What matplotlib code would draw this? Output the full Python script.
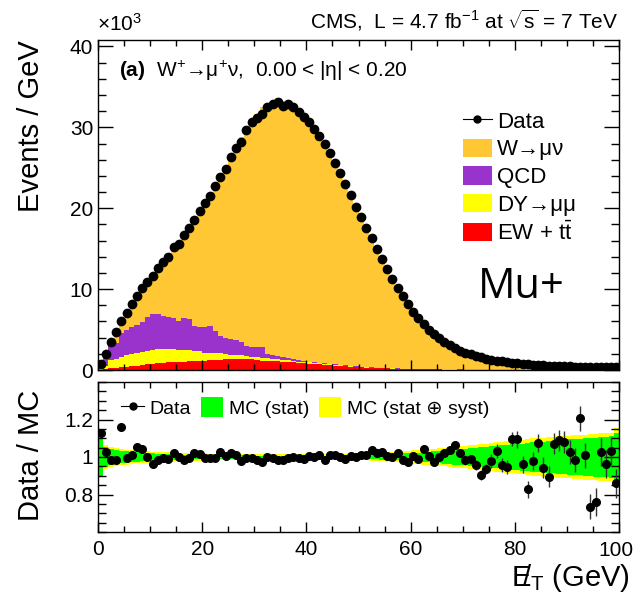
import numpy as np
import matplotlib
matplotlib.use('Agg')
import matplotlib.pyplot as plt
from matplotlib.lines import Line2D
from matplotlib.patches import Patch
from matplotlib.ticker import MultipleLocator

plt.rcParams['font.family'] = ['Liberation Sans', 'DejaVu Sans']
plt.rcParams['mathtext.fontset'] = 'custom'
plt.rcParams['mathtext.rm'] = 'Liberation Sans'
plt.rcParams['mathtext.it'] = 'Liberation Sans:italic'
plt.rcParams['mathtext.bf'] = 'Liberation Sans:bold'
plt.rcParams['mathtext.default'] = 'regular'

# 1 GeV bins from 0 to 100, values in units of 10^3 events / GeV
edges = np.arange(0, 101)
centers = edges[:-1] + 0.5

data_k = [
    0.7, 2.0, 3.5, 4.7, 6.0, 7.0, 8.2, 9.2, 10.1, 10.9,
    11.6, 12.6, 13.3, 14.0, 15.2, 15.6, 16.7, 17.5, 18.6, 19.6,
    20.6, 21.5, 22.7, 23.9, 24.9, 26.3, 27.4, 28.2, 29.7, 30.6,
    31.1, 31.7, 32.5, 32.9, 33.1, 32.6, 32.9, 32.5, 31.9, 31.3,
    30.6, 29.8, 28.9, 27.9, 26.8, 25.6, 24.3, 23.0, 21.6, 20.2,
    18.9, 17.6, 16.3, 15.0, 13.7, 12.5, 11.3, 10.2, 9.1, 8.1,
    7.2, 6.4, 5.7, 5.0, 4.4, 3.9, 3.45, 3.05, 2.7, 2.4,
    2.15, 1.93, 1.73, 1.56, 1.41, 1.28, 1.16, 1.06, 0.97, 0.89,
    0.82, 0.76, 0.71, 0.66, 0.62, 0.58, 0.55, 0.52, 0.49, 0.46,
    0.44, 0.42, 0.40, 0.38, 0.36, 0.35, 0.34, 0.33, 0.32, 0.31]

w_munu = [
    0.17, 0.5, 0.5, 1.1, 0.9, 2.05, 2.82, 3.15, 3.78, 4.42,
    5.15, 5.9, 6.69, 7.64, 8.5, 9.53, 10.57, 11.29, 12.76, 13.97,
    15.45, 16.25, 18.06, 19.12, 20.78, 21.98, 23.43, 25.28, 26.91, 27.92,
    28.71, 29.61, 30.5, 31.23, 31.94, 31.53, 31.68, 31.14, 30.92, 30.58,
    29.4, 28.88, 27.71, 27.52, 25.77, 24.66, 23.73, 22.72, 20.94, 19.8,
    18.32, 17.02, 15.4, 14.36, 13.07, 12.2, 11.11, 9.8, 9.08, 8.15,
    7.02, 6.33, 5.36, 4.87, 4.41, 3.8, 3.28, 2.86, 2.46, 2.28,
    2.12, 1.89, 1.75, 1.67, 1.46, 1.26, 1.07, 1.06, 0.98, 0.77,
    0.71, 0.75, 0.82, 0.63, 0.54, 0.58, 0.57, 0.45, 0.41, 0.39,
    0.4, 0.4, 0.3, 0.35, 0.46, 0.43, 0.3, 0.31, 0.28, 0.33]

qcd = [
    0.3, 0.9, 2.0, 2.0, 3.0, 3.2, 3.3, 3.5, 3.7, 4.2,
    4.45, 4.35, 4.1, 3.9, 3.85, 3.6, 3.9, 3.85, 3.0, 3.0,
    3.15, 3.3, 2.7, 2.15, 2.05, 1.9, 1.85, 1.7, 1.3, 1.25,
    1.3, 1.4, 0.55, 0.5, 0.4, 0.35, 0.25, 0.15, 0.15, 0.1,
    0.1, 0.1, 0.08, 0.07, 0.06, 0.05, 0.04, 0.04, 0.03, 0.03,
    0.02, 0.02, 0.02, 0.02, 0.02, 0.02, 0.02, 0.02, 0.02, 0.02,
    0.015, 0.015, 0.015, 0.015, 0.015, 0.015, 0.015, 0.015, 0.015, 0.015,
    0.01, 0.01, 0.01, 0.01, 0.01, 0.01, 0.01, 0.01, 0.01, 0.01,
    0.01, 0.01, 0.01, 0.01, 0.01, 0.01, 0.01, 0.01, 0.01, 0.01,
    0.01, 0.01, 0.01, 0.01, 0.01, 0.01, 0.01, 0.01, 0.01, 0.01]

dy_mumu = [
    0.1, 0.4, 0.95, 1.1, 1.25, 1.4, 1.55, 1.6, 1.6, 1.6,
    1.65, 1.7, 1.7, 1.65, 1.55, 1.5, 1.45, 1.35, 1.3, 1.2,
    1.0, 0.9, 0.9, 0.8, 0.65, 0.6, 0.55, 0.5, 0.35, 0.35,
    0.4, 0.35, 0.35, 0.3, 0.2, 0.2, 0.2, 0.2, 0.15, 0.15,
    0.15, 0.13, 0.12, 0.11, 0.1, 0.09, 0.08, 0.07, 0.06, 0.05,
    0.05, 0.04, 0.04, 0.035, 0.03, 0.03, 0.025, 0.025, 0.02, 0.02,
    0.015, 0.015, 0.015, 0.015, 0.015, 0.015, 0.015, 0.015, 0.015, 0.015,
    0.01, 0.01, 0.01, 0.01, 0.01, 0.01, 0.01, 0.01, 0.01, 0.01,
    0.01, 0.01, 0.01, 0.01, 0.01, 0.01, 0.01, 0.01, 0.01, 0.01,
    0.005, 0.005, 0.005, 0.005, 0.005, 0.005, 0.005, 0.005, 0.005, 0.005]

ew_ttbar = [
    0.05, 0.15, 0.25, 0.3, 0.35, 0.4, 0.45, 0.5, 0.6, 0.7,
    0.8, 0.85, 0.9, 0.95, 1.0, 1.0, 1.05, 1.1, 1.1, 1.1,
    1.15, 1.2, 1.2, 1.25, 1.3, 1.3, 1.3, 1.3, 1.35, 1.3,
    1.2, 1.15, 1.1, 1.1, 1.1, 1.05, 1.0, 0.95, 0.9, 0.85,
    0.8, 0.75, 0.7, 0.65, 0.6, 0.55, 0.5, 0.45, 0.4, 0.36,
    0.32, 0.29, 0.26, 0.23, 0.21, 0.19, 0.17, 0.15, 0.13, 0.12,
    0.11, 0.1, 0.09, 0.08, 0.07, 0.065, 0.06, 0.055, 0.05, 0.045,
    0.04, 0.04, 0.035, 0.035, 0.03, 0.03, 0.03, 0.025, 0.025, 0.025,
    0.02, 0.02, 0.02, 0.02, 0.02, 0.02, 0.02, 0.02, 0.02, 0.02,
    0.015, 0.015, 0.015, 0.015, 0.015, 0.015, 0.015, 0.015, 0.015, 0.015]

ratio = [
    1.126, 1.028, 0.984, 0.984, 1.158, 0.993, 1.01, 1.052, 1.043, 0.998,
    0.963, 0.984, 0.993, 0.99, 1.02, 0.998, 0.984, 0.995, 1.024, 1.017,
    0.993, 0.993, 0.993, 1.025, 1.005, 1.02, 1.01, 0.98, 0.993, 0.993,
    0.984, 0.975, 1.0, 0.993, 0.984, 0.984, 0.993, 1.002, 0.993, 0.988,
    1.005, 0.998, 1.01, 0.984, 1.01, 1.01, 0.998, 0.988, 1.008, 0.998,
    1.01, 1.013, 1.037, 1.024, 1.028, 1.005, 0.998, 1.02, 0.984, 0.975,
    1.005, 0.991, 1.041, 1.005, 0.975, 1.002, 1.024, 1.037, 1.064, 1.02,
    0.984, 0.988, 0.957, 0.904, 0.936, 0.979, 1.032, 0.957, 0.948, 1.094,
    1.094, 0.962, 0.828, 0.979, 1.074, 0.943, 0.895, 1.07, 1.09, 1.081,
    1.028, 0.984, 1.206, 1.01, 0.735, 0.762, 1.028, 0.962, 1.032, 0.86]

ratio_err = [
    0.01, 0.006, 0.005, 0.004, 0.004, 0.004, 0.003, 0.003, 0.003, 0.003,
    0.003, 0.003, 0.003, 0.003, 0.003, 0.003, 0.003, 0.003, 0.003, 0.003,
    0.003, 0.003, 0.003, 0.003, 0.003, 0.003, 0.003, 0.003, 0.003, 0.003,
    0.003, 0.003, 0.003, 0.003, 0.003, 0.003, 0.003, 0.003, 0.003, 0.003,
    0.003, 0.003, 0.003, 0.003, 0.003, 0.003, 0.003, 0.003, 0.003, 0.003,
    0.004, 0.004, 0.004, 0.005, 0.005, 0.005, 0.006, 0.006, 0.007, 0.007,
    0.012, 0.012, 0.013, 0.013, 0.014, 0.018, 0.018, 0.019, 0.019, 0.02,
    0.025, 0.025, 0.026, 0.026, 0.027, 0.035, 0.035, 0.036, 0.036, 0.037,
    0.045, 0.045, 0.046, 0.046, 0.047, 0.055, 0.055, 0.056, 0.056, 0.057,
    0.065, 0.065, 0.066, 0.066, 0.067, 0.075, 0.075, 0.076, 0.076, 0.077]

mc_stat = [
    0.1, 0.055, 0.045, 0.038, 0.033, 0.03, 0.027, 0.025, 0.023, 0.021,
    0.019, 0.018, 0.017, 0.016, 0.015, 0.014, 0.013, 0.013, 0.012, 0.012,
    0.011, 0.011, 0.01, 0.01, 0.01, 0.01, 0.009, 0.009, 0.009, 0.009,
    0.008, 0.008, 0.008, 0.008, 0.008, 0.008, 0.008, 0.008, 0.008, 0.008,
    0.008, 0.008, 0.008, 0.008, 0.008, 0.008, 0.009, 0.009, 0.009, 0.009,
    0.01, 0.011, 0.012, 0.013, 0.014, 0.015, 0.017, 0.018, 0.02, 0.021,
    0.022, 0.024, 0.026, 0.028, 0.03, 0.032, 0.035, 0.037, 0.04, 0.042,
    0.045, 0.048, 0.05, 0.053, 0.055, 0.058, 0.06, 0.063, 0.065, 0.068,
    0.07, 0.072, 0.075, 0.078, 0.08, 0.082, 0.085, 0.087, 0.09, 0.092,
    0.094, 0.096, 0.098, 0.1, 0.102, 0.104, 0.106, 0.108, 0.11, 0.13]

mc_total = [
    0.105, 0.065, 0.055, 0.048, 0.043, 0.04, 0.037, 0.034, 0.032, 0.03,
    0.028, 0.027, 0.026, 0.025, 0.024, 0.023, 0.022, 0.021, 0.02, 0.02,
    0.019, 0.018, 0.018, 0.017, 0.017, 0.016, 0.016, 0.015, 0.015, 0.015,
    0.014, 0.014, 0.014, 0.014, 0.014, 0.014, 0.014, 0.014, 0.014, 0.014,
    0.014, 0.014, 0.014, 0.014, 0.014, 0.014, 0.015, 0.015, 0.015, 0.015,
    0.016, 0.017, 0.019, 0.021, 0.023, 0.025, 0.027, 0.029, 0.031, 0.033,
    0.035, 0.037, 0.04, 0.042, 0.045, 0.048, 0.05, 0.053, 0.056, 0.058,
    0.06, 0.063, 0.066, 0.069, 0.072, 0.075, 0.078, 0.081, 0.084, 0.087,
    0.09, 0.093, 0.096, 0.099, 0.102, 0.104, 0.106, 0.108, 0.11, 0.112,
    0.114, 0.116, 0.118, 0.12, 0.122, 0.124, 0.126, 0.128, 0.13, 0.155]

c_w = '#FFC733'
c_qcd = '#9933CC'
c_dy = '#FFFF00'
c_ew = '#FF0000'
c_stat = '#00FF00'

fig = plt.figure(figsize=(6.35, 6.0), dpi=100)
ax1 = fig.add_axes([98/635, 1-370/600, 521/635, 330/600])
ax2 = fig.add_axes([98/635, 1-532/600, 521/635, 150/600])

# stacked histograms
s1 = np.array(ew_ttbar)
s2 = s1 + np.array(dy_mumu)
s3 = s2 + np.array(qcd)
s4 = s3 + np.array(w_munu)
ax1.stairs(s4, edges, baseline=s3, fill=True, color=c_w, lw=0)
ax1.stairs(s3, edges, baseline=s2, fill=True, color=c_qcd, lw=0)
ax1.stairs(s2, edges, baseline=s1, fill=True, color=c_dy, lw=0)
ax1.stairs(s1, edges, baseline=0, fill=True, color=c_ew, lw=0)
ax1.plot(centers, data_k, 'o', color='black', ms=6, zorder=5)

ax1.set_xlim(0, 100)
ax1.set_ylim(0, 40.8)
ax1.xaxis.set_major_locator(MultipleLocator(20))
ax1.xaxis.set_minor_locator(MultipleLocator(5))
ax1.yaxis.set_major_locator(MultipleLocator(10))
ax1.yaxis.set_minor_locator(MultipleLocator(2))
ax1.tick_params(axis='both', which='both', direction='in', top=True, right=True,
                labelsize=15, width=1)
ax1.tick_params(axis='y', which='major', length=11)
ax1.tick_params(axis='y', which='minor', length=6)
ax1.tick_params(axis='x', which='major', length=7)
ax1.tick_params(axis='x', which='minor', length=4)
ax1.tick_params(axis='x', labelbottom=False)

leg_handles = [
    Line2D([], [], color='black', marker='o', ms=5, lw=0.8),
    Patch(facecolor=c_w, edgecolor='none'),
    Patch(facecolor=c_qcd, edgecolor='none'),
    Patch(facecolor=c_dy, edgecolor='none'),
    Patch(facecolor=c_ew, edgecolor='none'),
]
leg_labels = ['Data', 'W→μν', 'QCD', 'DY→μμ', r'EW + t$\bar{t}$']
ax1.legend(leg_handles, leg_labels, loc='upper left', bbox_to_anchor=(0.683, 0.812),
           frameon=False, fontsize=16, handlelength=1.3, handleheight=0.9,
           labelspacing=0.26, handletextpad=0.25, borderaxespad=0)

ax1.text(0.04, 0.905, r'$\mathbf{(a)}$  W$^{+}$→μ$^{+}$ν,  0.00 < |η| < 0.20',
         transform=ax1.transAxes, fontsize=15, va='center')
ax1.text(0.895, 0.25, 'Mu+', transform=ax1.transAxes, fontsize=30, ha='right',
         va='center', family=['Open Sans', 'DejaVu Sans'])

# ratio panel
one = np.ones(len(mc_total))
ax2.stairs(one + np.array(mc_total), edges, baseline=one - np.array(mc_total),
           fill=True, color=c_dy, lw=0)
ax2.stairs(one + np.array(mc_stat), edges, baseline=one - np.array(mc_stat),
           fill=True, color=c_stat, lw=0)
ax2.errorbar(centers, ratio, yerr=ratio_err, fmt='o', color='black', ms=5.5,
             ecolor='#333333', elinewidth=1, capsize=0, zorder=5)
ax2.set_xlim(0, 100)
ax2.set_ylim(0.6, 1.4)
ax2.set_xticks([0, 20, 40, 60, 80, 100])
ax2.set_xticklabels(['0', '20', '40', '60', '80', ''])
ax2.xaxis.set_minor_locator(MultipleLocator(5))
ax2.yaxis.set_minor_locator(MultipleLocator(0.05))
ax2.set_yticks([0.8, 1.0, 1.2])
ax2.set_yticklabels(['0.8', '1', '1.2'])
ax2.tick_params(axis='both', which='both', direction='in', top=True, right=True,
                labelsize=15, width=1)
ax2.tick_params(axis='y', which='major', length=11)
ax2.tick_params(axis='y', which='minor', length=6)
ax2.tick_params(axis='x', which='major', length=7, pad=6)
ax2.tick_params(axis='x', which='minor', length=4)
# the "100" label sits at the right edge, kept inside the canvas
fig.text(634/635, 1-540.5/600, '100', fontsize=15, ha='right', va='top')

r_handles = [
    Line2D([], [], color='black', marker='o', ms=5, lw=0.8),
    Patch(facecolor=c_stat, edgecolor='none'),
    Patch(facecolor=c_dy, edgecolor='none'),
]
ax2.legend(r_handles, ['Data', 'MC (stat)', 'MC (stat ⊕ syst)'], loc='upper left',
           bbox_to_anchor=(0.03, 0.95), ncol=3, frameon=False, fontsize=14,
           handlelength=1.15, handleheight=1.2, handletextpad=0.3,
           columnspacing=0.5, borderaxespad=0)

for ax in (ax1, ax2):
    for sp in ax.spines.values():
        sp.set_linewidth(1)

fig.text(97/635, 1-24/600, r'$\times10^{3}$', fontsize=15, ha='left', va='center')
fig.text(618/635, 1-20/600, r'CMS,  L = 4.7 fb$^{-1}$ at $\sqrt{s}$ = 7 TeV',
         fontsize=15, ha='right', va='center')
fig.text(31/635, 1-40/600, 'Events / GeV', rotation=90, fontsize=21,
         ha='center', va='top')
fig.text(31/635, 1-455/600, 'Data / MC', rotation=90, fontsize=21,
         ha='center', va='center')
fig.text(630/635, 1-578/600, r'$/\!\!\!\!\!E_{T}$ (GeV)', fontsize=21,
         ha='right', va='center')

fig.savefig('out.png', dpi=100)
